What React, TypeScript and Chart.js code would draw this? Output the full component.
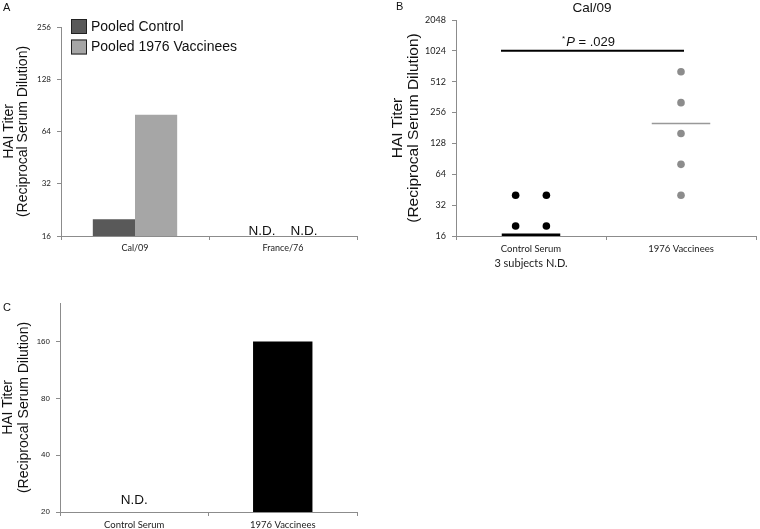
import React, { useEffect, useRef } from 'react';
import { Chart, registerables } from 'chart.js';

Chart.register(...registerables);

// ---------- Panel A ----------
const categoriesA = ['Cal/09', 'France/76'];
const seriesNamesA = ['Pooled Control', 'Pooled 1976 Vaccinees'];
const pooledControlA: (number | null)[] = [20, null];
const pooledVaccineesA: (number | null)[] = [80, null];
const yTicksA = [16, 32, 64, 128, 256];

// ---------- Panel B ----------
const titleB = 'Cal/09';
const categoriesB = ['Control Serum', '1976 Vaccinees'];
const notesB = ['3 subjects N.D.', ''];
const controlSerumB = [40, 40, 20, 20];
const vaccineesB = [640, 320, 160, 80, 40];
const centerLinesB = [16.5, 200];
const yTicksB = [16, 32, 64, 128, 256, 512, 1024, 2048];
const pValueB = '.029';
const pBarLevelB = 1024;

// ---------- Panel C ----------
const categoriesC = ['Control Serum', '1976 Vaccinees'];
const valuesC: (number | null)[] = [null, 160];
const yTicksC = [20, 40, 80, 160];

// ---------- styling ----------
const AXIS = '#8c8c8c';
const SANS = "'Liberation Sans', Arial, sans-serif";
const SMALL = "Lato, 'Open Sans', sans-serif";
const Y_TITLE = ['HAI Titer', '(Reciprocal Serum Dilution)'];

type Box = { w: number; h: number; left: number; top: number; right: number; bottom: number };

const boxA: Box = { w: 380, h: 265, left: 61, top: 27, right: 357, bottom: 236 };
const boxB: Box = { w: 380, h: 280, left: 76, top: 20, right: 378, bottom: 236 };
const boxC: Box = { w: 420, h: 249, left: 60, top: 23, right: 357, bottom: 232 };

function logAxis(min: number, max: number, ticks: number[], box: Box, tickFont: any, titleFont: any, titlePad: number) {
  return {
    type: 'logarithmic',
    min,
    max,
    afterBuildTicks: (s: any) => {
      s.ticks = ticks.map((v) => ({ value: v }));
    },
    afterFit: (s: any) => {
      s.width = box.left;
    },
    ticks: { callback: (v: any) => String(v), font: tickFont, color: '#222', padding: 6 },
    grid: { drawOnChartArea: false, drawTicks: true, tickLength: 4, color: AXIS },
    border: { display: true, color: AXIS, width: 1 },
    title: { display: true, text: Y_TITLE, font: titleFont, color: '#111', padding: { top: titlePad, bottom: 0 } },
  };
}

function catAxis(box: Box, font: any, extra: any = {}) {
  return {
    type: 'category',
    offset: true,
    afterFit: (s: any) => {
      s.height = box.h - box.bottom;
    },
    grid: { offset: true, drawOnChartArea: false, drawTicks: true, tickLength: 4, color: AXIS },
    border: { display: true, color: AXIS, width: 1 },
    ticks: { font, color: '#222', padding: 3, maxRotation: 0, autoSkip: false },
    ...extra,
  };
}

function basePadding(box: Box) {
  return { left: 0, top: box.top, right: box.w - box.right, bottom: 0 };
}

const ndPlugin = (lift: number) => ({
  id: 'ndLabels',
  afterDatasetsDraw(chart: any) {
    const ctx = chart.ctx;
    ctx.save();
    ctx.font = `13.5px ${SANS}`;
    ctx.fillStyle = '#111';
    ctx.textAlign = 'center';
    ctx.textBaseline = 'middle';
    chart.data.datasets.forEach((ds: any, d: number) => {
      const meta = chart.getDatasetMeta(d);
      ds.data.forEach((v: any, i: number) => {
        if (v == null && meta.data[i]) {
          ctx.fillText('N.D.', meta.data[i].x, chart.chartArea.bottom - lift);
        }
      });
    });
    ctx.restore();
  },
});

const legendPluginA = {
  id: 'legendA',
  afterDraw(chart: any) {
    const ctx = chart.ctx;
    const { left, top } = chart.chartArea;
    ctx.save();
    ctx.font = `14px ${SANS}`;
    ctx.textBaseline = 'middle';
    ctx.textAlign = 'left';
    chart.data.datasets.forEach((ds: any, i: number) => {
      const y = top - 8 + i * 20.5;
      ctx.fillStyle = ds.backgroundColor;
      ctx.fillRect(left + 10, y, 16, 15);
      ctx.strokeStyle = '#222';
      ctx.lineWidth = 1;
      ctx.strokeRect(left + 10.5, y + 0.5, 15, 14);
      ctx.fillStyle = '#111';
      ctx.fillText(ds.label, left + 30, y + 8);
    });
    ctx.restore();
  },
};

function dotOffsets(values: number[], spacing: number) {
  const seen: Record<string, number> = {};
  const totals: Record<string, number> = {};
  values.forEach((v) => (totals[v] = (totals[v] || 0) + 1));
  return values.map((v) => {
    const r = seen[v] || 0;
    seen[v] = r + 1;
    return (r - (totals[v] - 1) / 2) * spacing;
  });
}

const seriesColorsB = ['#000000', '#8c8c8c'];

const panelBPlugin = {
  id: 'panelB',
  afterDatasetsDraw(chart: any) {
    const ctx = chart.ctx;
    const x = chart.scales.x;
    const y = chart.scales.y;
    const area = chart.chartArea;
    ctx.save();
    // center lines
    centerLinesB.forEach((v, i) => {
      const yy = y.getPixelForValue(v);
      ctx.beginPath();
      ctx.strokeStyle = i === 0 ? '#000' : '#999';
      ctx.lineWidth = i === 0 ? 2.5 : 1.5;
      ctx.moveTo(x.getPixelForValue(i - 0.195), yy);
      ctx.lineTo(x.getPixelForValue(i + 0.195), yy);
      ctx.stroke();
    });
    // significance bar
    const sy = y.getPixelForValue(pBarLevelB);
    const x0 = x.getPixelForValue(-0.2);
    const x1 = x.getPixelForValue(1.02);
    ctx.beginPath();
    ctx.strokeStyle = '#000';
    ctx.lineWidth = 2;
    ctx.moveTo(x0, sy);
    ctx.lineTo(x1, sy);
    ctx.stroke();
    // p-value text
    const star = '*';
    const p = 'P';
    const rest = ' = ' + pValueB;
    ctx.fillStyle = '#111';
    ctx.textBaseline = 'alphabetic';
    ctx.textAlign = 'left';
    ctx.font = `8px ${SANS}`;
    const wStar = ctx.measureText(star).width;
    ctx.font = `italic 13px ${SANS}`;
    const wP = ctx.measureText(p).width;
    ctx.font = `13px ${SANS}`;
    const wRest = ctx.measureText(rest).width;
    const total = wStar + 1 + wP + wRest;
    let tx = (x0 + x1) / 2 - 4 - total / 2;
    const base = sy - 5;
    ctx.font = `8px ${SANS}`;
    ctx.fillText(star, tx, base - 5);
    tx += wStar + 1;
    ctx.font = `italic 13px ${SANS}`;
    ctx.fillText(p, tx, base);
    tx += wP;
    ctx.font = `13px ${SANS}`;
    ctx.fillText(rest, tx, base);
    // title
    ctx.font = `13.5px ${SANS}`;
    ctx.textAlign = 'center';
    ctx.textBaseline = 'middle';
    ctx.fillText(titleB, (area.left + area.right) / 2 - 14, 8);
    // notes below category labels
    ctx.font = `11px ${SMALL}`;
    ctx.fillStyle = '#222';
    notesB.forEach((n, i) => {
      if (n) ctx.fillText(n, x.getPixelForValue(i), area.bottom + 27);
    });
    ctx.restore();
  },
};

function makeConfigA(): any {
  return {
    type: 'bar',
    data: {
      labels: categoriesA,
      datasets: [
        { label: seriesNamesA[0], data: pooledControlA, backgroundColor: '#595959', borderWidth: 0 },
        { label: seriesNamesA[1], data: pooledVaccineesA, backgroundColor: '#a6a6a6', borderWidth: 0 },
      ],
    },
    options: {
      responsive: false,
      animation: false,
      devicePixelRatio: 1,
      events: [],
      layout: { padding: basePadding(boxA) },
      datasets: { bar: { categoryPercentage: 0.57, barPercentage: 1 } },
      plugins: { legend: { display: false }, tooltip: { enabled: false }, title: { display: false } },
      scales: {
        x: catAxis(boxA, { family: SMALL, size: 9 }),
        y: logAxis(16, 256, yTicksA, boxA, { family: SMALL, size: 8 }, { family: SANS, size: 14, lineHeight: 1 }, 2),
      },
    },
    plugins: [ndPlugin(5), legendPluginA],
  };
}

function makeConfigB(): any {
  const offC = dotOffsets(controlSerumB, 0.205);
  const offV = dotOffsets(vaccineesB, 0.205);
  return {
    type: 'scatter',
    data: {
      labels: categoriesB,
      datasets: [
        {
          label: categoriesB[0],
          data: controlSerumB.map((v, k) => ({ x: 0 + offC[k], y: v })),
          backgroundColor: seriesColorsB[0],
          pointRadius: 3.8,
          borderWidth: 0,
          xAxisID: 'x',
        },
        {
          label: categoriesB[1],
          data: vaccineesB.map((v, k) => ({ x: 1 + offV[k], y: v })),
          backgroundColor: seriesColorsB[1],
          pointRadius: 3.8,
          borderWidth: 0,
          xAxisID: 'x',
        },
      ],
    },
    options: {
      responsive: false,
      animation: false,
      devicePixelRatio: 1,
      events: [],
      layout: { padding: basePadding(boxB) },
      plugins: { legend: { display: false }, tooltip: { enabled: false }, title: { display: false } },
      scales: {
        x: { type: 'linear', min: -0.5, max: 1.5, display: false },
        xc: catAxis(boxB, { family: SMALL, size: 9.5 }, { labels: categoriesB, position: 'bottom', axis: 'x' }),
        y: logAxis(16, 2048, yTicksB, boxB, { family: SMALL, size: 9 }, { family: SANS, size: 15.5, lineHeight: 1 }, 10),
      },
    },
    plugins: [panelBPlugin],
  };
}

function makeConfigC(): any {
  return {
    type: 'bar',
    data: {
      labels: categoriesC,
      datasets: [{ label: 'HAI Titer', data: valuesC, backgroundColor: '#000000', borderWidth: 0 }],
    },
    options: {
      responsive: false,
      animation: false,
      devicePixelRatio: 1,
      events: [],
      layout: { padding: basePadding(boxC) },
      datasets: { bar: { categoryPercentage: 1, barPercentage: 0.4 } },
      plugins: { legend: { display: false }, tooltip: { enabled: false }, title: { display: false } },
      scales: {
        x: catAxis(boxC, { family: SMALL, size: 9.5 }),
        y: logAxis(20, 256, yTicksC, boxC, { family: SANS, size: 8 }, { family: SANS, size: 14, lineHeight: 1.15 }, 0),
      },
    },
    plugins: [ndPlugin(12)],
  };
}

function ChartCanvas({ box, left, top, make }: { box: Box; left: number; top: number; make: () => any }) {
  const ref = useRef<HTMLCanvasElement>(null);
  useEffect(() => {
    const chart = new Chart(ref.current as HTMLCanvasElement, make());
    return () => chart.destroy();
  }, []);
  return (
    <div style={{ position: 'absolute', left, top, width: box.w, height: box.h }}>
      <canvas ref={ref} width={box.w} height={box.h} style={{ width: box.w, height: box.h, display: 'block' }} />
    </div>
  );
}

const letterStyle: React.CSSProperties = {
  position: 'absolute',
  font: `11px ${SANS}`,
  lineHeight: '11px',
  color: '#111',
};

export default function App() {
  return (
    <div style={{ position: 'absolute', left: 0, top: 0, width: 760, height: 529, background: '#fff', overflow: 'hidden' }}>
      <ChartCanvas box={boxA} left={0} top={0} make={makeConfigA} />
      <ChartCanvas box={boxB} left={380} top={0} make={makeConfigB} />
      <ChartCanvas box={boxC} left={0} top={280} make={makeConfigC} />
      <span style={{ ...letterStyle, left: 3, top: 2 }}>A</span>
      <span style={{ ...letterStyle, left: 396, top: 1 }}>B</span>
      <span style={{ ...letterStyle, left: 3, top: 302 }}>C</span>
    </div>
  );
}
